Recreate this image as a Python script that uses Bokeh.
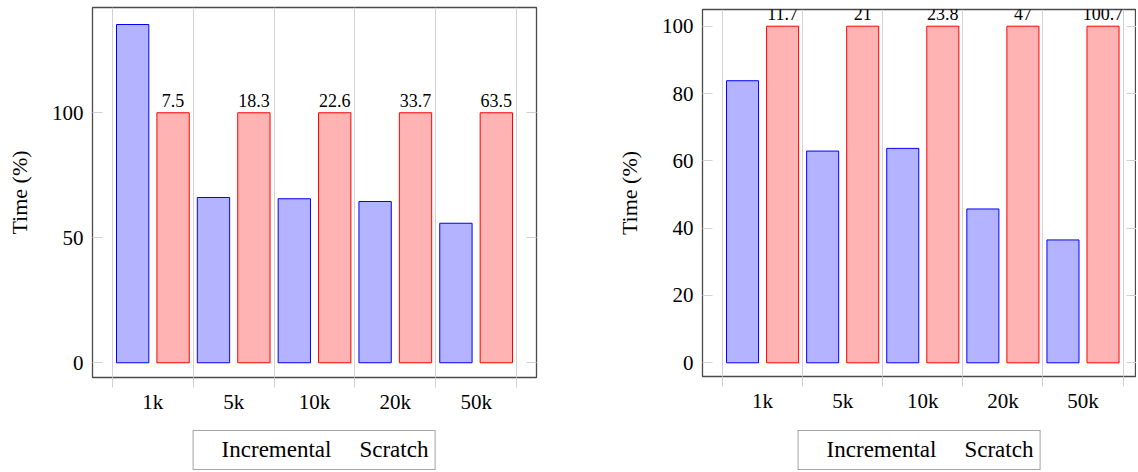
from bokeh.plotting import figure
from bokeh.models import ColumnDataSource, Range1d, FixedTicker, LinearAxis, Legend
from bokeh.transform import dodge
from bokeh.layouts import row, column
from bokeh.embed import file_html
from bokeh.resources import INLINE
from bokeh.core.properties import value

categories = ["1k", "5k", "10k", "20k", "50k"]

left_incremental = [135.3, 66.1, 65.6, 64.5, 55.8]
left_scratch = [100, 100, 100, 100, 100]
left_scratch_labels = ["7.5", "18.3", "22.6", "33.7", "63.5"]
left_yticks = [0, 50, 100]

right_incremental = [83.8, 62.9, 63.7, 45.7, 36.5]
right_scratch = [100, 100, 100, 100, 100]
right_scratch_labels = ["11.7", "21", "23.8", "47", "100.7"]
right_yticks = [0, 20, 40, 60, 80, 100]

series_names = ["Incremental", "Scratch"]

FONT = "Liberation Serif"
GRID = "#d2d2d2"
DARK = "#4a4a4a"
INC_FILL, INC_LINE = "#b3b3ff", "#0000ff"
SCR_FILL, SCR_LINE = "#ffb3b3", "#ff0000"


def make_chart(inc, scr, labels, yticks, frame_w, frame_h, x_range, y_range, borders):
    pos = list(range(1, len(categories) + 1))
    bounds = [x - 0.5 for x in pos] + [pos[-1] + 0.5]
    src = ColumnDataSource(dict(x=pos, inc=inc, scr=scr, lab=labels))

    p = figure(frame_width=frame_w, frame_height=frame_h, title=None,
               x_range=Range1d(*x_range), y_range=Range1d(*y_range),
               output_backend="svg", toolbar_location=None,
               min_border_left=borders[0], min_border_right=borders[1],
               min_border_top=borders[2], min_border_bottom=borders[3])

    xa = p.xaxis[0]
    ya = p.yaxis[0]
    xa.ticker = FixedTicker(ticks=pos, minor_ticks=bounds)
    xa.major_label_overrides = {x: c for x, c in zip(pos, categories)}
    xa.major_tick_line_color = None
    xa.major_tick_out = 10
    xa.major_tick_in = 0
    xa.minor_tick_out = 10
    xa.minor_tick_in = 0
    xa.minor_tick_line_color = GRID
    xa.major_label_standoff = 2
    xa.major_label_text_font = FONT
    xa.major_label_text_font_size = "21px"
    xa.major_label_text_color = "black"

    ya.ticker = FixedTicker(ticks=yticks)
    ya.major_tick_in = 10
    ya.major_tick_out = 0
    ya.major_tick_line_color = GRID
    ya.minor_tick_line_color = None
    ya.major_label_standoff = 9
    ya.major_label_text_font = FONT
    ya.major_label_text_font_size = "21px"
    ya.major_label_text_color = "black"
    ya.axis_label = "Time (%)"
    ya.axis_label_text_font = FONT
    ya.axis_label_text_font_size = "22px"
    ya.axis_label_text_font_style = "normal"
    ya.axis_label_text_color = "black"
    ya.axis_label_standoff = 17

    ra = LinearAxis(ticker=FixedTicker(ticks=yticks),
                    major_label_text_font_size="1px", major_label_text_alpha=0,
                    major_tick_in=10, major_tick_out=0,
                    major_tick_line_color=GRID,
                    minor_tick_line_color=None,
                    axis_line_color=None, major_label_standoff=0)
    p.add_layout(ra, "right")

    p.xgrid.ticker = FixedTicker(ticks=bounds)
    p.xgrid.grid_line_color = GRID
    p.ygrid.grid_line_color = None
    p.outline_line_color = DARK
    p.outline_line_width = 1.3
    xa.axis_line_color = None
    ya.axis_line_color = None

    p.vbar(x=dodge("x", -0.25), top="inc", bottom=0, width=0.4, source=src,
           fill_color=INC_FILL, line_color=INC_LINE, line_width=1)
    p.vbar(x=dodge("x", 0.25), top="scr", bottom=0, width=0.4, source=src,
           fill_color=SCR_FILL, line_color=SCR_LINE, line_width=1)
    p.text(x=dodge("x", 0.25), y="scr", text="lab", source=src,
           text_align="center", text_baseline="bottom", y_offset=-6,
           text_font=value(FONT), text_font_size="18px", text_color="black")
    return p


def make_legend(frame_w, frame_h, left_b, right_b):
    lg = figure(frame_width=frame_w, frame_height=frame_h, title=None,
                x_range=Range1d(0, 1), y_range=Range1d(0, 1),
                x_axis_location=None, y_axis_location=None,
                output_backend="svg", toolbar_location=None,
                min_border_left=left_b, min_border_right=right_b,
                min_border_top=0, min_border_bottom=0)
    lg.outline_line_color = None
    lg.grid.visible = False
    empty = ColumnDataSource(dict(x=[], top=[]))
    r1 = lg.vbar(x="x", top="top", width=0.4, source=empty,
                 fill_color=INC_FILL, line_color=INC_LINE, line_width=1)
    r2 = lg.vbar(x="x", top="top", width=0.4, source=empty,
                 fill_color=SCR_FILL, line_color=SCR_LINE, line_width=1)
    legend = Legend(items=[(series_names[0], [r1]), (series_names[1], [r2])],
                    orientation="horizontal", location="bottom_center",
                    margin=2, padding=6, spacing=6, label_standoff=6,
                    glyph_width=16, glyph_height=19,
                    label_text_font=FONT, label_text_font_size="23px",
                    label_text_color="black",
                    border_line_color=DARK, border_line_width=1.2,
                    background_fill_color="white")
    lg.add_layout(legend, "center")
    return lg


left = make_chart(left_incremental, left_scratch, left_scratch_labels, left_yticks,
                  frame_w=444, frame_h=370, x_range=(0.253, 5.747), y_range=(-5.9, 142.1),
                  borders=(92, 24, 7, 45))
left_leg = make_legend(444, 50, 92, 24)

right = make_chart(right_incremental, right_scratch, right_scratch_labels, right_yticks,
                   frame_w=434, frame_h=367, x_range=(0.25, 5.668), y_range=(-4.07, 104.96),
                   borders=(142, 0, 9, 46))
right_leg = make_legend(434, 50, 142, 2)

layout = row(column(left, left_leg), column(right, right_leg))
open("out.html", "w").write(file_html(layout, INLINE))
